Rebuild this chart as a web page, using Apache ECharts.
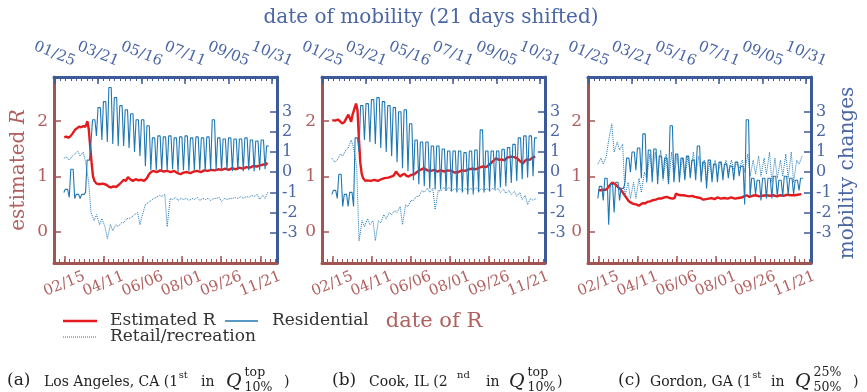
<!DOCTYPE html>
<html><head><meta charset="utf-8">
<script src="https://cdn.jsdelivr.net/npm/echarts@6/dist/echarts.min.js"></script>
<style>html,body{margin:0;padding:0;background:#fff}#c{width:867px;height:392px}</style>
</head><body><div id="c"></div>
<script>
// ---------------- DATA ----------------
// x of R series: days after 02/15 (date of R); x of mobility: days after 01/25 (date of mobility)
const rTickDays = [0, 56, 112, 168, 224, 280];
const rTickLabels = ['02/15', '04/11', '06/06', '08/01', '09/26', '11/21'];
const mTickDays = [0, 56, 112, 168, 224, 280];
const mTickLabels = ['01/25', '03/21', '05/16', '07/11', '09/05', '10/31'];
const rYTicks = [0, 1, 2];
const mYTicks = [-3, -2, -1, 0, 1, 2, 3];
const legendNames = ['Estimated R', 'Residential', 'Retail/recreation'];
const mobFirstDay = 12; // first mobility observation (days after 01/25), weekly blocks follow

// Panel (a) Los Angeles
const rA = [[0,1.71],[3,1.72],[6,1.70],[9,1.73],[12,1.78],[15,1.84],[18,1.87],[21,1.90],[24,1.89],[27,1.91],[30,1.90],[32,1.96],[33,2.00],[35,1.85],[37,1.55],[39,1.25],[41,1.00],[43,0.92],[46,0.87],[50,0.86],[55,0.87],[60,0.85],[63,0.82],[66,0.80],[70,0.82],[74,0.81],[78,0.85],[82,0.90],[85,0.94],[88,0.92],[91,0.99],[94,0.95],[98,0.92],[102,0.95],[106,0.93],[110,0.94],[114,0.92],[118,0.97],[121,1.04],[124,1.08],[127,1.10],[132,1.08],[137,1.11],[142,1.09],[147,1.10],[152,1.08],[157,1.10],[162,1.06],[166,1.04],[170,1.07],[175,1.08],[180,1.06],[185,1.09],[190,1.10],[195,1.08],[200,1.11],[205,1.10],[210,1.12],[215,1.11],[220,1.13],[225,1.12],[230,1.14],[235,1.12],[240,1.15],[245,1.13],[250,1.16],[255,1.14],[260,1.17],[265,1.16],[270,1.19],[275,1.18],[280,1.20],[285,1.22],[288,1.21],[290,1.25]];
const resLoA = [-1.0,-1.25,-1.3,-1.3,-1.0, 1.5,1.8,1.6,1.5,1.4, 1.3,1.3,1.2,1.0,0.8, 0.3,0.1,0.1,0.05,0.1, 0.15,0.0,0.1,0.05,0.1, 0.1,0.05,0.1,0.1,0.05, 0.1,0.05,0.1,0.05,0.1, 0.05,0.1,0.15];
const resHiA = [-0.85,0.15,-1.1,-1.1,0.6, 2.6,3.2,3.5,4.2,3.7, 3.3,3.1,2.9,2.6,2.6, 2.3,1.7,1.8,1.75,1.8, 1.7,1.75,1.8,1.7,1.75, 1.7,1.75,2.6,1.7,1.65, 1.7,1.65,1.65,1.7,1.6, 1.55,1.6,1.3];
const retLoA = [0.7,0.6,0.9,0.8,0.5, -2.0,-2.1,-2.3,-3.3,-2.9, -2.7,-2.5,-2.3,-2.1,-2.6, -1.6,-1.4,-1.25,-1.2,-2.7, -1.35,-1.4,-1.35,-1.4,-1.35, -1.4,-1.35,-1.4,-1.3,-1.45, -1.35,-1.3,-1.3,-1.3,-1.25, -1.2,-1.35,-1.3];
const retHiA = [0.75,0.8,1.05,1.0,-0.5, -2.4,-2.6,-2.7,-2.6,-2.6, -2.5,-2.3,-2.2,-2.0,-2.0, -1.5,-1.3,-1.15,-1.1,-1.3, -1.25,-1.3,-1.3,-1.3,-1.25, -1.3,-1.3,-1.3,-1.25,-1.3, -1.3,-1.25,-1.2,-1.2,-1.15, -1.1,-1.15,-0.95];

// Panel (b) Cook
const rB = [[0,2.02],[4,2.01],[8,2.03],[11,2.00],[14,1.96],[17,1.98],[20,2.05],[23,2.12],[25,2.14],[27,1.99],[29,2.12],[31,2.15],[33,2.28],[34,2.32],[36,2.20],[38,1.70],[40,1.25],[42,1.05],[44,0.97],[47,0.92],[50,0.93],[55,0.92],[60,0.94],[65,0.92],[70,0.95],[75,0.97],[80,0.98],[85,1.00],[88,1.02],[91,1.09],[94,1.04],[97,1.00],[100,1.03],[103,1.05],[106,1.01],[109,1.00],[113,1.03],[117,1.04],[121,1.08],[126,1.12],[131,1.15],[136,1.11],[141,1.10],[146,1.12],[150,1.09],[155,1.11],[160,1.09],[165,1.11],[170,1.10],[175,1.07],[180,1.08],[185,1.11],[190,1.10],[195,1.13],[200,1.14],[205,1.13],[210,1.16],[215,1.18],[220,1.17],[225,1.22],[230,1.28],[234,1.33],[238,1.30],[242,1.31],[246,1.29],[250,1.34],[255,1.36],[260,1.35],[265,1.32],[269,1.27],[272,1.23],[275,1.28],[278,1.31],[282,1.30],[286,1.34],[290,1.36]];
const resLoB = [-1.1,-1.3,-1.7,-1.7,-1.7, 1.0,1.6,1.5,1.4,1.2, 1.0,0.8,0.5,0.2,0.05, -0.4,-0.6,-0.7,-0.8,-0.85, -0.85,-0.93,-0.95,-1.0,-1.0, -1.1,-1.1,-1.0,-1.0,-0.93, -0.85,-0.76,-0.7,-0.53,-0.43, -0.35,-0.26,-0.2];
const resHiB = [-0.9,-0.1,-1.1,-1.0,1.7, 3.3,3.4,3.6,3.7,3.5, 3.3,3.2,3.0,3.1,2.4, 1.6,1.5,1.5,1.3,1.3, 1.15,1.05,1.05,1.05,0.97, 1.05,1.1,2.1,1.05,1.05, 1.05,1.14,1.22,1.38,1.7, 1.8,1.8,1.7];
const retLoB = [0.7,0.6,0.8,1.2,1.2, -3.4,-2.7,-2.6,-3.4,-2.5, -2.3,-2.1,-2.0,-2.6,-1.7, -1.4,-1.2,-1.0,-1.0,-1.85, -0.95,-0.9,-0.95,-0.9,-0.95, -0.9,-0.9,-0.95,-0.9,-0.95, -0.9,-1.0,-1.05,-1.1,-1.2, -1.35,-1.6,-1.4];
const retHiB = [0.5,0.9,1.1,1.6,0.3, -2.4,-2.3,-2.4,-2.4,-2.1, -2.0,-1.9,-1.7,-1.6,-1.4, -1.2,-0.9,-0.8,-0.8,-0.9, -0.75,-0.75,-0.8,-0.8,-0.8, -0.8,-0.75,-0.8,-0.8,-0.8, -0.8,-0.85,-0.9,-0.95,-1.0, -1.15,-1.3,-1.3];

// Panel (c) Gordon
const rC = [[0,0.75],[4,0.75],[8,0.76],[11,0.76],[14,0.80],[17,0.85],[20,0.89],[22,0.88],[25,0.85],[28,0.81],[31,0.78],[34,0.73],[37,0.67],[40,0.62],[43,0.56],[46,0.53],[49,0.51],[52,0.50],[55,0.49],[58,0.47],[61,0.50],[64,0.52],[67,0.51],[70,0.54],[74,0.55],[78,0.57],[82,0.58],[86,0.60],[90,0.60],[94,0.62],[98,0.63],[102,0.61],[106,0.60],[109,0.61],[111,0.69],[114,0.67],[118,0.66],[122,0.66],[126,0.65],[130,0.64],[134,0.65],[138,0.63],[142,0.62],[146,0.61],[150,0.58],[154,0.59],[158,0.60],[162,0.61],[166,0.59],[170,0.62],[175,0.60],[180,0.61],[185,0.60],[190,0.62],[195,0.60],[200,0.61],[205,0.62],[208,0.64],[212,0.66],[216,0.63],[220,0.65],[225,0.66],[230,0.64],[235,0.65],[240,0.66],[245,0.65],[250,0.66],[255,0.64],[260,0.66],[265,0.65],[270,0.67],[275,0.66],[280,0.66],[285,0.67],[290,0.68]];
const resLoC = [-1.3,-1.4,-2.6,-2.0,-1.4, -0.5,0.0,0.1,-0.3,-0.5, -0.5,-0.6,-0.3,-0.6,-0.5, -0.5,-0.4,-0.3,-0.4,-0.5, -0.8,-0.5,-0.5,-0.4,-0.3, -0.4,-0.2,-1.6,-1.2,-1.1, -1.4,-1.3,-1.3,-1.2,-1.2, -1.1,-1.1,-0.9];
const resHiC = [-0.7,-0.3,-0.6,-0.5,-0.8, 0.7,1.0,1.2,1.9,1.1, 1.15,0.8,0.7,2.3,0.9, 0.7,0.8,0.6,1.3,0.5, 0.6,0.4,0.5,0.4,0.3, 0.5,0.3,2.6,-0.3,-0.4, -0.3,-0.3,-0.2,-0.4,-0.2, -0.3,-0.4,-0.3];
const retLoC = [0.4,0.4,1.6,1.0,1.1, -1.2,-1.3,-1.3,-1.0,-0.3, -0.2,-0.2,-0.4,-0.6,-0.4, -0.3,-0.3,-0.2,-0.1,-0.2, -0.5,-0.3,-0.2,-0.1,0.0, 0.1,0.2,0.0,-0.2,-0.1, -0.2,-0.1,-0.5,-0.3,-0.2, -0.3,-0.5,0.4];
const retHiC = [0.7,0.8,2.4,1.5,1.4, -0.5,-0.5,-0.3,0.0,0.9, 1.0,1.1,0.9,1.0,0.9, 0.7,0.8,1.0,0.8,0.6, 0.5,0.6,0.5,0.6,0.6, 0.5,0.6,0.9,0.6,0.8, 0.7,1.0,0.7,0.6,0.9, 1.0,0.6,0.8];

// ---------------- STYLE / LAYOUT ----------------
const RED = '#e41a1c', BLUE = '#1f77b4';
const AX_R = '#a25453', TX_R = '#b0605e', AX_B = '#3c5a98', TX_B = '#4a66a4';
const FONT = '"DejaVu Serif", serif';
const gridLefts = [54, 322, 588];
const GT = 77, GW = 223, GH = 186;

function resPts(lo, hi) {
  const p = [];
  lo.forEach((v, k) => { const d = mobFirstDay + 7 * k; p.push([d, v], [d + 2, hi[k]], [d + 5, hi[k]]); });
  return p;
}
function retPts(lo, hi) {
  const p = [];
  lo.forEach((v, k) => { const d = mobFirstDay + 7 * k; p.push([d, v], [d + 4, hi[k]]); });
  return p;
}
const rMinor = []; for (let d = -14; d <= 303; d += 7) rMinor.push(d);
const mMinor = []; for (let d = 0; d <= 286; d += 7) mMinor.push(d);
const evenOf = a => a.filter((_, j) => j % 2 === 0);
const oddOf = a => a.filter((_, j) => j % 2 === 1);

const panels = [
  { r: rA, res: resPts(resLoA, resHiA), ret: retPts(retLoA, retHiA) },
  { r: rB, res: resPts(resLoB, resHiB), ret: retPts(retLoB, retHiB) },
  { r: rC, res: resPts(resLoC, resHiC), ret: retPts(retLoC, retHiC) }
];

const grids = [], xAxes = [], yAxes = [], series = [];
const lab = (color, size) => ({ color, fontFamily: FONT, fontSize: size, showMinLabel: true, showMaxLabel: true, hideOverlap: false });
function dateLabels(days, labels, color, margin, vals) {
  return Object.assign({ show: true, customValues: vals, formatter: v => labels[days.indexOf(v)],
    rotate: 22, align: 'center', verticalAlign: 'middle', margin }, lab(color, 15));
}
panels.forEach((p, i) => {
  grids.push({ left: gridLefts[i], top: GT, width: GW, height: GH });
  xAxes.push({ gridIndex: i, type: 'value', position: 'bottom', min: -14.7, max: 303.9,
    axisLine: { show: false, onZero: false },
    axisTick: { show: true, inside: true, length: 4, customValues: rMinor, lineStyle: { color: AX_R, width: 1 } },
    axisLabel: dateLabels(rTickDays, rTickLabels, TX_R, 21, oddOf(rTickDays)), splitLine: { show: false } });
  xAxes.push({ gridIndex: i, type: 'value', position: 'bottom', min: -14.7, max: 303.9,
    axisLine: { show: true, onZero: false, lineStyle: { color: AX_R, width: 3 } },
    axisTick: { show: true, inside: true, length: 7, customValues: rTickDays, lineStyle: { color: AX_R, width: 1.5 } },
    axisLabel: dateLabels(rTickDays, rTickLabels, TX_R, 21, evenOf(rTickDays)), splitLine: { show: false } });
  xAxes.push({ gridIndex: i, type: 'value', position: 'top', min: -0.64, max: 286.4,
    axisLine: { show: false, onZero: false },
    axisTick: { show: true, inside: true, length: 4, customValues: mMinor, lineStyle: { color: AX_B, width: 1 } },
    axisLabel: dateLabels(mTickDays, mTickLabels, TX_B, 23, oddOf(mTickDays)), splitLine: { show: false } });
  xAxes.push({ gridIndex: i, type: 'value', position: 'top', min: -0.64, max: 286.4,
    axisLine: { show: true, onZero: false, lineStyle: { color: AX_B, width: 3 } },
    axisTick: { show: true, inside: true, length: 7, customValues: mTickDays, lineStyle: { color: AX_B, width: 1.5 } },
    axisLabel: dateLabels(mTickDays, mTickLabels, TX_B, 23, evenOf(mTickDays)), splitLine: { show: false } });
  yAxes.push({ gridIndex: i, type: 'value', position: 'left', min: -0.566, max: 2.80,
    axisLine: { show: true, onZero: false, lineStyle: { color: AX_R, width: 3 } },
    axisTick: { show: true, inside: true, length: 7, customValues: rYTicks, lineStyle: { color: AX_R, width: 1.5 } },
    axisLabel: Object.assign({ show: true, customValues: rYTicks, margin: 6 }, lab(TX_R, 17)),
    splitLine: { show: false } });
  yAxes.push({ gridIndex: i, type: 'value', position: 'right', min: -4.5, max: 4.72,
    axisLine: { show: true, onZero: false, lineStyle: { color: AX_B, width: 3 } },
    axisTick: { show: true, inside: true, length: 7, customValues: mYTicks, lineStyle: { color: AX_B, width: 1.5 } },
    axisLabel: Object.assign({ show: true, customValues: mYTicks, margin: 5 }, lab(TX_B, 16)),
    splitLine: { show: false } });
  series.push({ name: legendNames[0], type: 'line', xAxisIndex: 4 * i + 1, yAxisIndex: 2 * i, data: p.r,
    showSymbol: false, lineStyle: { color: RED, width: 2.4 }, z: 2 });
  series.push({ name: legendNames[1], type: 'line', xAxisIndex: 4 * i + 3, yAxisIndex: 2 * i + 1, data: p.res,
    showSymbol: false, lineStyle: { color: BLUE, width: 1.1 }, z: 3 });
  series.push({ name: legendNames[2], type: 'line', xAxisIndex: 4 * i + 3, yAxisIndex: 2 * i + 1, data: p.ret,
    showSymbol: false, lineStyle: { color: BLUE, width: 1, type: 'dotted' }, z: 3 });
});

function txt(text, x, y, size, fill, extra) {
  return Object.assign({ type: 'text', x, y, silent: true,
    style: Object.assign({ text, fill, fontFamily: FONT, fontSize: size, textAlign: 'left', textVerticalAlign: 'middle' }, (extra || {}).style || {}) },
    extra && extra.rotation ? { rotation: extra.rotation } : {});
}
const G = [];
G.push(txt('date of mobility (21 days shifted)', 431, 18, 20, TX_B, { style: { textAlign: 'center' } }));
G.push(txt('date of R', 434, 322, 21, TX_R, { style: { textAlign: 'center' } }));
G.push({ type: 'text', x: 19, y: 170, rotation: Math.PI / 2, silent: true,
  style: { text: '{a|estimated }{b|R}', textAlign: 'center', textVerticalAlign: 'middle',
    rich: { a: { fontFamily: FONT, fontSize: 20, fill: TX_R }, b: { fontFamily: FONT, fontSize: 20, fontStyle: 'italic', fill: TX_R } } } });
G.push(txt('mobility changes', 848, 173, 20, TX_B, { rotation: Math.PI / 2, style: { textAlign: 'center' } }));
// legend
G.push({ type: 'line', silent: true, shape: { x1: 63, y1: 321, x2: 97, y2: 321 }, style: { stroke: RED, lineWidth: 2.5 } });
G.push(txt(legendNames[0], 110, 321, 17, '#333'));
G.push({ type: 'line', silent: true, shape: { x1: 225, y1: 321, x2: 258, y2: 321 }, style: { stroke: BLUE, lineWidth: 1.3 } });
G.push(txt(legendNames[1], 272, 321, 17, '#333'));
G.push({ type: 'line', silent: true, shape: { x1: 63, y1: 337, x2: 97, y2: 337 }, style: { stroke: BLUE, lineWidth: 1, lineDash: [1, 1] } });
G.push(txt(legendNames[2], 110, 337, 17, '#333'));

// captions: each piece at its reference position, pushed right if the previous piece is wider
const mctx = document.createElement('canvas').getContext('2d');
function tw(s, size, italic) { mctx.font = (italic ? 'italic ' : '') + size + 'px "DejaVu Serif"'; return mctx.measureText(s).width; }
const capY = 382, supY = 374, subY = 388, CC = '#222';
const captions = [
  { lab: '(a)', lx: 7, body: 'Los Angeles, CA (1', bx: 44, ord: 'st', ox: 178, inx: 201, qx: 226, sup: 'top', sub: '10%', sx: 246, cx: 284 },
  { lab: '(b)', lx: 332, body: 'Cook, IL (2', bx: 369, ord: 'nd', ox: 457, inx: 486, qx: 509, sup: 'top', sub: '10%', sx: 528, cx: 557 },
  { lab: '(c)', lx: 618, body: 'Gordon, GA (1', bx: 650, ord: 'st', ox: 747, inx: 771, qx: 795, sup: '25%', sub: '50%', sx: 815, cx: 853 }
];
const BS = 14, OS = 10, QS = 19, SS = 12.5;
captions.forEach(c => {
  G.push(txt(c.lab, c.lx, capY - 1, 17, CC));
  let x = c.bx;
  G.push(txt(c.body, x, capY, BS, CC)); x += tw(c.body, BS);
  x = Math.max(c.ox, x + 0.5);
  G.push(txt(c.ord, x, supY + 1, OS, CC)); x += tw(c.ord, OS);
  x = Math.max(c.inx, x + 5);
  G.push(txt('in', x, capY, BS, CC)); x += tw('in', BS);
  x = Math.max(c.qx, x + 5);
  G.push(txt('Q', x, capY, QS, CC, { style: { fontStyle: 'italic' } })); x += tw('Q', QS, true);
  x = Math.max(Math.min(c.sx, x + 3), x + 1);
  G.push(txt(c.sup, x, supY - 1, SS, CC));
  G.push(txt(c.sub, x, subY, SS, CC)); x += Math.max(tw(c.sup, SS), tw(c.sub, SS));
  x = Math.max(c.cx, x + 1);
  G.push(txt(')', x, capY, BS, CC));
});

const chart = echarts.init(document.getElementById('c'), null, { renderer: 'canvas' });
chart.setOption({
  animation: false,
  backgroundColor: '#fff',
  grid: grids, xAxis: xAxes, yAxis: yAxes, series,
  graphic: { elements: G }
});
</script></body></html>
